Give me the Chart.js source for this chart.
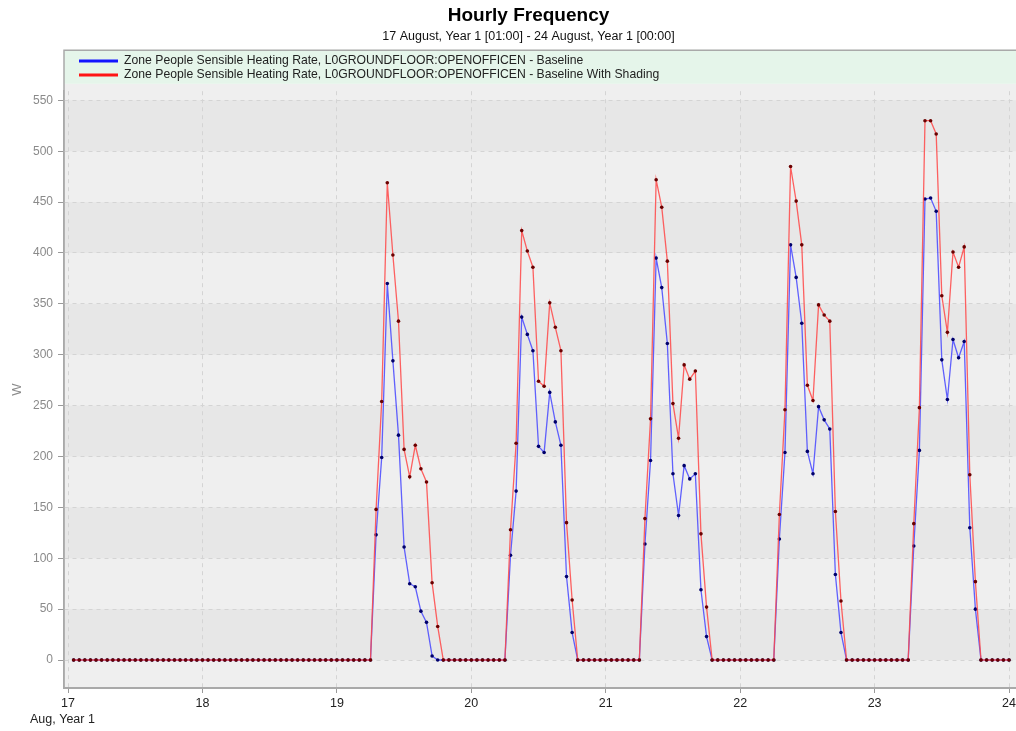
<!DOCTYPE html>
<html>
<head>
<meta charset="utf-8">
<script src="https://cdn.jsdelivr.net/npm/chart.js@4.4.1/dist/chart.umd.min.js"></script>
<style>
html,body{margin:0;padding:0;background:#ffffff;}
#wrap{width:1016px;height:731px;}
</style>
</head>
<body>
<div id="wrap"><canvas id="c" width="1016" height="731"></canvas></div>
<script>
// ---- Data (hourly values, 01:00 .. 24:00 for each day of August) ----
const days = [17, 18, 19, 20, 21, 22, 23];
const xTicks = [17, 18, 19, 20, 21, 22, 23, 24];
const yTicks = [0, 50, 100, 150, 200, 250, 300, 350, 400, 450, 500, 550];

const seriesLabels = [
  'Zone People Sensible Heating Rate, L0GROUNDFLOOR:OPENOFFICEN - Baseline',
  'Zone People Sensible Heating Rate, L0GROUNDFLOOR:OPENOFFICEN - Baseline With Shading'
];

const baselineAug17 = [0,0,0,0,0,0, 0,0,0,0,0,0, 0,0,0,0,0,0, 0,0,0,0,0,0];
const baselineAug18 = [0,0,0,0,0,0, 0,0,0,0,0,0, 0,0,0,0,0,0, 0,0,0,0,0,0];
const baselineAug19 = [0,0,0,0,0,0, 123,199,370,294,221,111,75,72,48,37,4,0, 0,0,0,0,0,0];
const baselineAug20 = [0,0,0,0,0,0, 103,166,337,320,304,210,204,263,234,211,82,27, 0,0,0,0,0,0];
const baselineAug21 = [0,0,0,0,0,0, 114,196,395,366,311,183,142,191,178,183,69,23, 0,0,0,0,0,0];
const baselineAug22 = [0,0,0,0,0,0, 119,204,408,376,331,205,183,249,236,227,84,27, 0,0,0,0,0,0];
const baselineAug23 = [0,0,0,0,0,0, 112,206,453,454,441,295,256,315,297,313,130,50, 0,0,0,0,0,0];

const shadingAug17 = [0,0,0,0,0,0, 0,0,0,0,0,0, 0,0,0,0,0,0, 0,0,0,0,0,0];
const shadingAug18 = [0,0,0,0,0,0, 0,0,0,0,0,0, 0,0,0,0,0,0, 0,0,0,0,0,0];
const shadingAug19 = [0,0,0,0,0,0, 148,254,469,398,333,207,180,211,188,175,76,33, 0,0,0,0,0,0];
const shadingAug20 = [0,0,0,0,0,0, 128,213,422,402,386,274,269,351,327,304,135,59, 0,0,0,0,0,0];
const shadingAug21 = [0,0,0,0,0,0, 139,237,472,445,392,252,218,290,276,284,124,52, 0,0,0,0,0,0];
const shadingAug22 = [0,0,0,0,0,0, 143,246,485,451,408,270,255,349,339,333,146,58, 0,0,0,0,0,0];
const shadingAug23 = [0,0,0,0,0,0, 134,248,530,530,517,358,322,401,386,406,182,77, 0,0,0,0,0,0];

const baselineDays = [baselineAug17, baselineAug18, baselineAug19, baselineAug20, baselineAug21, baselineAug22, baselineAug23];
const shadingDays = [shadingAug17, shadingAug18, shadingAug19, shadingAug20, shadingAug21, shadingAug22, shadingAug23];

function toPoints(dayArrays) {
  const pts = [];
  dayArrays.forEach((arr, i) => arr.forEach((v, k) => pts.push({ x: days[i] + (k + 1) / 24, y: v })));
  return pts;
}

// ---- Styles ----
const FONT = "'Liberation Sans', Arial, Helvetica, sans-serif";
Chart.defaults.font.family = FONT;
const legendSwatch = ['#1414ff', '#ff1414'];

const framePlugin = {
  id: 'frame',
  afterLayout(chart) {
    const a = chart.chartArea;
    chart.boxes.forEach(b => {
      if (b.options && typeof b.options.text === 'string' && b.position === 'top') {
        b.left = 41; b.right = chart.width;
      }
    });
    if (chart.legend) {
      const w = chart.legend.right - chart.legend.left;
      chart.legend.left = a.left + 13;
      chart.legend.right = chart.legend.left + w;
    }
  },
  beforeDraw(chart) {
    const { ctx, chartArea: a, scales: { y } } = chart;
    const right = chart.width;
    const boxTop = chart.legend.top - 3;
    const boxBottom = boxTop + 34;
    ctx.save();
    ctx.fillStyle = '#efefef';
    ctx.fillRect(a.left, boxBottom, right - a.left, a.bottom - boxBottom);
    ctx.fillStyle = '#e7e7e7';
    for (let i = 0; i + 1 < yTicks.length; i += 2) {
      const t = y.getPixelForValue(yTicks[i + 1]);
      const b = y.getPixelForValue(yTicks[i]);
      ctx.fillRect(a.left, t, right - a.left, b - t);
    }
    ctx.fillStyle = '#e5f5ea';
    ctx.fillRect(a.left, boxTop, right - a.left, boxBottom - boxTop);
    ctx.strokeStyle = '#a9a9a9';
    ctx.lineWidth = 1.5;
    ctx.beginPath();
    ctx.moveTo(a.left, a.bottom);
    ctx.lineTo(a.left, boxTop + 0.5);
    ctx.lineTo(right, boxTop + 0.5);
    ctx.stroke();
    ctx.restore();
  },
  afterDraw(chart) {
    const { ctx, chartArea: a } = chart;
    ctx.save();
    ctx.fillStyle = '#222222';
    ctx.font = '12.5px ' + FONT;
    ctx.textBaseline = 'middle';
    ctx.textAlign = 'left';
    ctx.fillText('Aug, Year 1', a.left - 34, 720);
    ctx.restore();
  }
};

new Chart(document.getElementById('c'), {
  type: 'line',
  data: {
    datasets: [
      {
        label: seriesLabels[0],
        data: toPoints(baselineDays),
        borderColor: 'rgba(70,70,255,0.85)',
        backgroundColor: 'rgba(70,70,255,0.85)',
        borderWidth: 1.3,
        pointRadius: 1.8,
        pointBackgroundColor: '#00006a',
        pointBorderWidth: 0,
        tension: 0,
        fill: false,
        order: 1
      },
      {
        label: seriesLabels[1],
        data: toPoints(shadingDays),
        borderColor: 'rgba(255,70,70,0.85)',
        backgroundColor: 'rgba(255,70,70,0.85)',
        borderWidth: 1.3,
        pointRadius: 1.8,
        pointBackgroundColor: '#6a0000',
        pointBorderWidth: 0,
        tension: 0,
        fill: false,
        order: 0
      }
    ]
  },
  options: {
    responsive: false,
    animation: false,
    devicePixelRatio: 1,
    layout: { autoPadding: false, padding: { left: 10, right: 0, top: 0, bottom: 20 } },
    plugins: {
      tooltip: { enabled: false },
      title: {
        display: true,
        text: 'Hourly Frequency',
        color: '#000000',
        font: { size: 19, weight: 'bold' },
        padding: { top: 4, bottom: 2 }
      },
      subtitle: {
        display: true,
        text: '17 August, Year 1 [01:00] - 24 August, Year 1 [00:00]',
        color: '#111111',
        font: { size: 12.5 },
        padding: { top: 0, bottom: 9 }
      },
      legend: {
        display: true,
        position: 'top',
        align: 'start',
        fullSize: false,
        labels: {
          boxWidth: 39,
          boxHeight: 3,
          padding: 2,
          color: '#222222',
          font: { size: 12.2 },
          generateLabels(chart) {
            const items = Chart.defaults.plugins.legend.labels.generateLabels(chart);
            items.forEach(it => {
              const c = legendSwatch[it.datasetIndex];
              it.fillStyle = c; it.strokeStyle = c; it.lineWidth = 0;
            });
            return items.sort((p, q) => p.datasetIndex - q.datasetIndex);
          }
        }
      }
    },
    scales: {
      x: {
        type: 'linear',
        min: 16.97,
        max: 24.052,
        afterBuildTicks(s) { s.ticks = xTicks.map(v => ({ value: v })); },
        afterFit(s) { s.height = 23; s.paddingLeft = 0; s.paddingRight = 0; },
        ticks: { color: '#222222', font: { size: 12.5 }, padding: 3, maxRotation: 0, autoSkip: false, callback: v => String(v) },
        grid: { color: '#d4d4d4', lineWidth: 1, tickLength: 5, tickColor: '#9a9a9a', tickBorderDash: [] },
        border: { display: true, color: '#a9a9a9', width: 2, dash: [4, 4] }
      },
      y: {
        type: 'linear',
        min: -27.5,
        max: 559,
        afterBuildTicks(s) { s.ticks = yTicks.map(v => ({ value: v })); },
        afterFit(s) { s.width = 54; s.paddingTop = 0; s.paddingBottom = 0; },
        ticks: { color: '#8a8a8a', font: { size: 12 }, padding: 5, callback: v => String(v) },
        grid: { color: '#d4d4d4', lineWidth: 1, tickLength: 6, tickColor: '#9a9a9a', tickBorderDash: [] },
        border: { display: true, color: '#a9a9a9', width: 1.5, dash: [4, 4] },
        title: { display: true, text: 'W', color: '#8a8a8a', font: { size: 13 }, padding: { top: 0, bottom: 8 } }
      }
    }
  },
  plugins: [framePlugin]
});
</script>
</body>
</html>
